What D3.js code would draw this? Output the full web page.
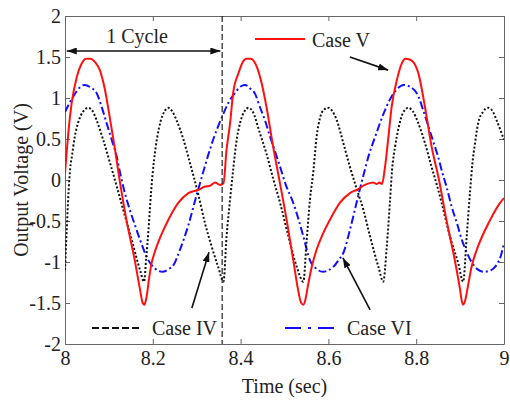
<!DOCTYPE html>
<html><head><meta charset="utf-8">
<script src="https://cdn.jsdelivr.net/npm/d3@7"></script>
<style>body{margin:0;background:#fff}svg{display:block}</style>
</head><body><svg id="c" width="510" height="405"></svg>
<script>
const xTicks=[8,8.2,8.4,8.6,8.8,9];
const yTicks=[-2,-1.5,-1,-0.5,0,0.5,1,1.5,2];
const seriesNames=["Case IV","Case V","Case VI"];

const caseIV_t=[8.000,8.004,8.008,8.012,8.016,8.022,8.030,8.042,8.053,8.063,8.072,8.087,8.103,8.118,8.133,8.152,8.171,8.180,8.185,8.190,8.196,8.203,8.210,8.218,8.227,8.235,8.244,8.254,8.270,8.285,8.302,8.319,8.334,8.349,8.361,8.368,8.376,8.383,8.390,8.399,8.409,8.418,8.427,8.444,8.459,8.474,8.490,8.509,8.528,8.543,8.550,8.558,8.566,8.573,8.581,8.590,8.600,8.609,8.619,8.634,8.649,8.664,8.680,8.695,8.714,8.725,8.733,8.740,8.745,8.752,8.760,8.770,8.782,8.792,8.805,8.820,8.835,8.847,8.858,8.877,8.896,8.907,8.915,8.923,8.928,8.934,8.941,8.952,8.964,8.975,8.983,9.000];
const caseIV_v=[-1.10,-0.60,-0.15,0.15,0.30,0.52,0.70,0.84,0.88,0.84,0.73,0.49,0.20,-0.08,-0.37,-0.73,-1.10,-1.24,-0.95,-0.62,-0.15,0.25,0.52,0.72,0.84,0.88,0.84,0.73,0.49,0.20,-0.14,-0.53,-0.81,-1.06,-1.24,-0.69,-0.24,0.12,0.45,0.70,0.84,0.88,0.84,0.57,0.32,0.02,-0.28,-0.69,-1.06,-1.24,-0.77,-0.24,0.12,0.52,0.76,0.86,0.88,0.84,0.73,0.45,0.16,-0.10,-0.37,-0.69,-1.06,-1.24,-0.81,-0.28,0.12,0.41,0.64,0.82,0.88,0.84,0.69,0.45,0.16,-0.06,-0.28,-0.69,-1.02,-1.24,-0.69,-0.12,0.20,0.45,0.69,0.83,0.88,0.83,0.73,0.49];

const caseV_t=[8.000,8.004,8.008,8.015,8.027,8.038,8.048,8.058,8.068,8.080,8.091,8.103,8.114,8.125,8.140,8.159,8.171,8.177,8.181,8.186,8.191,8.197,8.205,8.220,8.235,8.258,8.281,8.304,8.319,8.330,8.342,8.353,8.361,8.368,8.376,8.383,8.395,8.405,8.413,8.423,8.437,8.448,8.459,8.474,8.489,8.505,8.520,8.531,8.538,8.543,8.548,8.553,8.562,8.573,8.588,8.607,8.626,8.649,8.668,8.683,8.702,8.710,8.716,8.722,8.729,8.736,8.744,8.756,8.767,8.775,8.785,8.793,8.805,8.820,8.835,8.852,8.869,8.888,8.900,8.904,8.907,8.912,8.917,8.926,8.938,8.957,8.972,8.991,9.000];
const caseV_v=[0.08,0.35,0.60,0.93,1.26,1.42,1.48,1.48,1.44,1.33,1.10,0.73,0.37,-0.02,-0.49,-0.98,-1.34,-1.50,-1.52,-1.42,-1.22,-1.02,-0.87,-0.66,-0.49,-0.28,-0.16,-0.12,-0.08,-0.07,-0.03,-0.06,-0.04,0.37,0.69,1.06,1.30,1.44,1.48,1.48,1.38,1.18,0.89,0.41,-0.02,-0.49,-0.98,-1.34,-1.50,-1.52,-1.45,-1.30,-1.06,-0.85,-0.65,-0.45,-0.28,-0.16,-0.11,-0.06,-0.03,-0.05,-0.03,-0.05,0.16,0.49,0.89,1.22,1.42,1.48,1.47,1.44,1.30,0.89,0.41,0.00,-0.49,-0.98,-1.34,-1.48,-1.52,-1.46,-1.32,-1.06,-0.85,-0.61,-0.45,-0.28,-0.22];

const caseVI_t=[8.000,8.019,8.032,8.045,8.058,8.072,8.083,8.095,8.107,8.118,8.125,8.136,8.148,8.160,8.171,8.190,8.205,8.222,8.235,8.248,8.262,8.281,8.300,8.315,8.326,8.340,8.357,8.372,8.387,8.400,8.410,8.421,8.433,8.444,8.456,8.467,8.479,8.490,8.503,8.520,8.532,8.543,8.558,8.572,8.588,8.600,8.611,8.624,8.634,8.649,8.664,8.678,8.692,8.708,8.725,8.740,8.755,8.771,8.785,8.805,8.816,8.828,8.840,8.850,8.860,8.869,8.881,8.893,8.904,8.915,8.926,8.940,8.953,8.965,8.976,8.985,8.993,9.000];
const caseVI_v=[0.83,1.02,1.12,1.16,1.13,1.06,0.90,0.69,0.48,0.28,0.10,-0.15,-0.37,-0.56,-0.73,-0.98,-1.08,-1.12,-1.09,-1.03,-0.85,-0.55,-0.18,0.10,0.30,0.53,0.76,0.94,1.06,1.14,1.16,1.12,1.05,0.89,0.72,0.53,0.34,0.16,-0.06,-0.28,-0.48,-0.69,-0.98,-1.08,-1.12,-1.10,-1.06,-0.97,-0.89,-0.61,-0.28,0.02,0.30,0.55,0.80,0.98,1.10,1.16,1.14,1.02,0.85,0.65,0.45,0.28,0.08,-0.08,-0.33,-0.53,-0.73,-0.88,-1.00,-1.09,-1.12,-1.11,-1.08,-1.02,-0.92,-0.77];

const L=65,R=504,T=16,B=344;
const svg=d3.select('#c');
const font='"Liberation Serif","Times New Roman",serif';
const x=d3.scaleLinear().domain([8,9]).range([L,R]);
const y=d3.scaleLinear().domain([-2,2]).range([B,T]);

const defs=svg.append('defs');
defs.append('clipPath').attr('id','clip').append('rect')
  .attr('x',L).attr('y',T).attr('width',R-L).attr('height',B-T);
defs.append('marker').attr('id','ah').attr('viewBox','0 0 10 7')
  .attr('refX',10).attr('refY',3.5).attr('markerWidth',10).attr('markerHeight',7)
  .attr('markerUnits','userSpaceOnUse').attr('orient','auto-start-reverse')
  .append('path').attr('d','M0,0L10,3.5L0,7z').attr('fill','#111');

const fmt=d=>String(d);
const axCol='#666';
function styleAxis(g){
  g.select('.domain').attr('stroke',axCol).attr('stroke-width',1);
  g.selectAll('.tick line').attr('stroke',axCol);
  g.selectAll('.tick text').attr('fill','#222').style('font-family',font).style('font-size','20px');
}
svg.append('g').attr('transform',`translate(0,${B})`)
  .call(d3.axisBottom(x).tickValues(xTicks).tickFormat(fmt).tickSizeInner(-5).tickSizeOuter(0).tickPadding(7)).call(styleAxis);
svg.append('g').attr('transform',`translate(${L},0)`)
  .call(d3.axisLeft(y).tickValues(yTicks).tickFormat(fmt).tickSizeInner(-5).tickSizeOuter(0).tickPadding(4)).call(styleAxis);
svg.append('g').attr('transform',`translate(0,${T})`)
  .call(d3.axisTop(x).tickValues(xTicks).tickFormat('').tickSizeInner(-5).tickSizeOuter(0)).call(styleAxis);
svg.append('g').attr('transform',`translate(${R},0)`)
  .call(d3.axisRight(y).tickValues(yTicks).tickFormat('').tickSizeInner(-5).tickSizeOuter(0)).call(styleAxis);

const line=d3.line().x(d=>x(d[0])).y(d=>y(d[1])).curve(d3.curveMonotoneX);
const zip=(a,b)=>a.map((t,i)=>[t,b[i]]);
const plot=svg.append('g').attr('clip-path','url(#clip)');
plot.append('path').datum(zip(caseVI_t,caseVI_v)).attr('d',line)
  .attr('fill','none').attr('stroke','#1010ff').attr('stroke-width',2).attr('stroke-dasharray','8,3,2,3');
plot.append('path').datum(zip(caseIV_t,caseIV_v)).attr('d',line)
  .attr('fill','none').attr('stroke','#111').attr('stroke-width',2).attr('stroke-dasharray','2,2');
plot.append('path').datum(zip(caseV_t,caseV_v)).attr('d',line)
  .attr('fill','none').attr('stroke','#ff1010').attr('stroke-width',2);

// cycle marker
const cycleEnd=8.358;
svg.append('line').attr('x1',x(cycleEnd)).attr('x2',x(cycleEnd)).attr('y1',T).attr('y2',B)
  .attr('stroke','#222').attr('stroke-width',1.2).attr('stroke-dasharray','6,3');
svg.append('line').attr('x1',x(8.004)).attr('x2',x(8.354)).attr('y1',y(1.573)).attr('y2',y(1.573))
  .attr('stroke','#111').attr('stroke-width',1.4).attr('marker-start','url(#ah)').attr('marker-end','url(#ah)');
svg.append('text').attr('x',137).attr('y',43).attr('text-anchor','middle')
  .style('font-family',font).style('font-size','20px').attr('fill','#222').text('1 Cycle');

// pointer arrows
const arrows=[[8.649,1.50,8.736,1.34],[8.289,-1.56,8.328,-0.88],[8.695,-1.585,8.633,-0.95]];
arrows.forEach(a=>svg.append('line').attr('x1',x(a[0])).attr('y1',y(a[1])).attr('x2',x(a[2])).attr('y2',y(a[3]))
  .attr('stroke','#111').attr('stroke-width',1.6).attr('marker-end','url(#ah)'));

// legend entries
const leg=[
 {name:seriesNames[1],x1:255,x2:305,ly:39,tx:312,ty:47,stroke:'#ff1010',dash:null},
 {name:seriesNames[0],x1:92,x2:142,ly:328,tx:152,ty:335,stroke:'#111',dash:'7,3'},
 {name:seriesNames[2],x1:285,x2:337,ly:328,tx:347,ty:335,stroke:'#1010ff',dash:'16,7,3,7'}];
leg.forEach(l=>{
  svg.append('line').attr('x1',l.x1).attr('x2',l.x2).attr('y1',l.ly).attr('y2',l.ly)
    .attr('stroke',l.stroke).attr('stroke-width',2).attr('stroke-dasharray',l.dash);
  svg.append('text').attr('x',l.tx).attr('y',l.ty).style('font-family',font).style('font-size','20px')
    .attr('fill','#222').text(l.name);
});

svg.append('text').attr('x',(L+R)/2).attr('y',393).attr('text-anchor','middle')
  .style('font-family',font).style('font-size','20px').attr('fill','#222').text('Time (sec)');
svg.append('text').attr('transform',`translate(28,${(T+B)/2}) rotate(-90)`).attr('text-anchor','middle')
  .style('font-family',font).style('font-size','20px').attr('fill','#222').text('Output Voltage (V)');
</script></body></html>
